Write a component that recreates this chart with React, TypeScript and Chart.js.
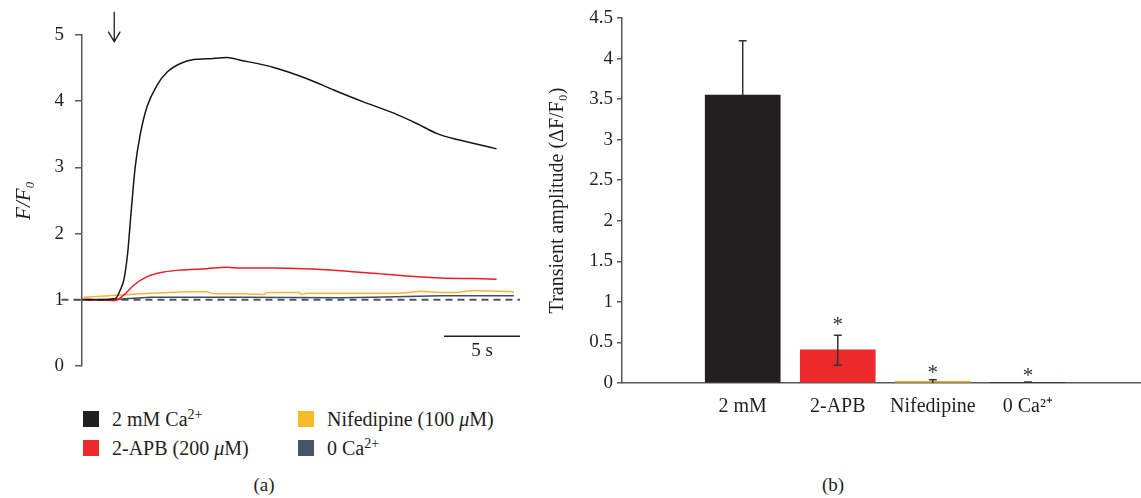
import React, { useEffect, useRef } from "react";
import { Chart, registerables } from "chart.js";

Chart.register(...registerables);

const SERIF = '"Liberation Serif", "Times New Roman", serif';
const INK = "#231f20";
const AXIS = "#58595b";

// ---------- Panel (a): F/F0 traces (time in s) ----------
const timeCa = [0, 1.0, 2.2, 2.5, 2.75, 3.0, 3.22, 3.5, 3.84, 4.28, 4.93, 5.6, 6.47, 7.34, 8.22, 9.54, 10.42, 12.6, 14.8, 16.55, 18.5, 20.5, 22.04, 23.36, 24.67, 25.99, 27.26];
const ratioCa = [1.0, 1.0, 1.02, 1.14, 1.3, 1.7, 2.3, 3.01, 3.51, 3.92, 4.24, 4.44, 4.57, 4.63, 4.64, 4.66, 4.62, 4.51, 4.34, 4.17, 3.99, 3.82, 3.66, 3.51, 3.42, 3.35, 3.28];

const timeApb = [0, 1.0, 2.2, 2.74, 3.4, 4.28, 5.37, 6.47, 8.22, 9.54, 10.42, 12.6, 14.6, 17.0, 19.2, 21.4, 23.6, 25.8, 27.26];
const ratioApb = [1.01, 1.0, 0.99, 1.07, 1.22, 1.35, 1.42, 1.45, 1.47, 1.49, 1.48, 1.48, 1.47, 1.44, 1.4, 1.36, 1.33, 1.32, 1.31];

const timeNif = [0.1, 2.3, 4.5, 6.9, 8.2, 8.66, 10.4, 12.0, 12.1, 14.3, 14.4, 14.8, 20.9, 22.3, 23.6, 24.7, 25.6, 28.4];
const ratioNif = [1.04, 1.07, 1.1, 1.12, 1.12, 1.09, 1.09, 1.08, 1.11, 1.11, 1.08, 1.1, 1.1, 1.13, 1.11, 1.11, 1.14, 1.12];

const timeZero = [0.1, 2.3, 4.5, 10.4, 17.0, 19.2, 23.6, 28.4];
const ratioZero = [1.0, 1.01, 1.04, 1.04, 1.03, 1.04, 1.06, 1.06];

const baselineTimes = [-1.35, 28.8];
const baselineValue = 1;
const scaleBarTimes = [23.8, 28.8];
const scaleBarValue = 0.45;
const scaleBarLabel = "5 s";
const scaleLabelTime = 26.3;
const scaleLabelValue = 0.22;
const arrowTime = 2.12;
const arrowTop = 5.35;
const arrowBottom = 4.9;
const timeMax = 28.8;
const ratioMax = 5;

const legendLabels = ["2 mM Ca²⁺", "2-APB (200 μM)", "Nifedipine (100 μM)", "0 Ca²⁺"];
const seriesColors = ["#231f20", "#ec2a2a", "#f4bb2a", "#46536a"];
const lineColors = ["#151515", "#ee1c25", "#f7b733", "#3f4d66"];

// ---------- Panel (b): transient amplitude ----------
const barLabels = ["2 mM", "2-APB", "Nifedipine", "0 Ca²⁺"];
const barPositions = [1, 2, 3, 4];
const barValues = [3.55, 0.41, 0.02, 0.005];
const errUpper = [4.22, 0.59, 0.04, 0.012];
const errLower = [3.55, 0.22, 0.0, 0.0];
const starValues = [null, 0.76, 0.17, 0.13];
const barColors = ["#231f20", "#ec2a2a", "#f0b323", "#2f3a4f"];
const amplitudeMax = 4.5;
const amplitudeStep = 0.5;

const toXY = (t: number[], v: number[]) => t.map((x, i) => ({ x, y: v[i] }));

function PanelA() {
  const ref = useRef<HTMLCanvasElement>(null);
  useEffect(() => {
    const overlay = {
      id: "overlayA",
      afterDraw(chart: any) {
        const { ctx, scales } = chart;
        const xs = scales.x;
        const ys = scales.y;
        const ax = xs.getPixelForValue(arrowTime);
        const at = ys.getPixelForValue(arrowTop);
        const ab = ys.getPixelForValue(arrowBottom);
        ctx.save();
        ctx.strokeStyle = INK;
        ctx.lineWidth = 1.3;
        ctx.beginPath();
        ctx.moveTo(ax, at);
        ctx.lineTo(ax, ab);
        ctx.moveTo(ax - 6, ab - 10);
        ctx.lineTo(ax, ab);
        ctx.lineTo(ax + 6, ab - 10);
        ctx.stroke();
        ctx.fillStyle = INK;
        ctx.font = `19px ${SERIF}`;
        ctx.textAlign = "center";
        ctx.textBaseline = "middle";
        ctx.fillText(scaleBarLabel, xs.getPixelForValue(scaleLabelTime), ys.getPixelForValue(scaleLabelValue));
        ctx.restore();
      },
    };
    const line = (label: string, t: number[], v: number[], color: string, smooth: boolean) => ({
      label,
      data: toXY(t, v),
      borderColor: color,
      backgroundColor: color,
      borderWidth: 1.5,
      pointRadius: 0,
      cubicInterpolationMode: smooth ? "monotone" : "default",
      tension: 0,
    });
    const chart = new Chart(ref.current as HTMLCanvasElement, {
      type: "line",
      data: {
        datasets: [
          line(legendLabels[0], timeCa, ratioCa, lineColors[0], true),
          line(legendLabels[1], timeApb, ratioApb, lineColors[1], true),
          line(legendLabels[2], timeNif, ratioNif, lineColors[2], false),
          line(legendLabels[3], timeZero, ratioZero, lineColors[3], false),
          {
            label: "baseline",
            data: baselineTimes.map((x) => ({ x, y: baselineValue })),
            borderColor: "#555555",
            borderWidth: 2,
            borderDash: [7, 5],
            pointRadius: 0,
            clip: false,
          },
          {
            label: "scale bar",
            data: scaleBarTimes.map((x) => ({ x, y: scaleBarValue })),
            borderColor: INK,
            borderWidth: 1.5,
            pointRadius: 0,
            clip: false,
          },
        ],
      },
      options: {
        animation: false,
        responsive: false,
        events: [],
        layout: { padding: { top: 35, right: 20, bottom: 34, left: 0 } },
        plugins: { legend: { display: false }, tooltip: { enabled: false } },
        scales: {
          x: { type: "linear", min: 0, max: timeMax, display: false },
          y: {
            min: 0,
            max: ratioMax,
            ticks: { stepSize: 1, color: INK, font: { family: SERIF, size: 19 }, padding: 11 },
            grid: { drawOnChartArea: false, drawTicks: true, tickLength: 7, color: AXIS, lineWidth: 1.5 },
            border: { display: true, color: AXIS, width: 1.5 },
            title: {
              display: true,
              text: "F/F₀",
              color: INK,
              font: { family: SERIF, size: 21, style: "italic" },
              padding: { top: 12, bottom: 0 },
            },
            afterFit(s: any) {
              s.width = 82;
            },
          },
        },
      } as any,
      plugins: [overlay],
    });
    return () => chart.destroy();
  }, []);
  return <canvas ref={ref} width={540} height={400} style={{ position: "absolute", left: 0, top: 0 }} />;
}

function PanelB() {
  const ref = useRef<HTMLCanvasElement>(null);
  useEffect(() => {
    const overlay = {
      id: "overlayB",
      afterDatasetsDraw(chart: any) {
        const { ctx, scales } = chart;
        const xs = scales.x;
        const ys = scales.y;
        ctx.save();
        ctx.strokeStyle = "#333333";
        ctx.lineWidth = 1.5;
        barPositions.forEach((p, i) => {
          const x = xs.getPixelForValue(p);
          const yTop = ys.getPixelForValue(errUpper[i]);
          const yBot = ys.getPixelForValue(errLower[i]);
          ctx.beginPath();
          ctx.moveTo(x, yBot);
          ctx.lineTo(x, yTop);
          ctx.moveTo(x - 4, yTop);
          ctx.lineTo(x + 4, yTop);
          if (errLower[i] < barValues[i] && errLower[i] > 0) {
            ctx.moveTo(x - 4, yBot);
            ctx.lineTo(x + 4, yBot);
          }
          ctx.stroke();
        });
        ctx.fillStyle = "#333333";
        ctx.font = `21px ${SERIF}`;
        ctx.textAlign = "center";
        ctx.textBaseline = "middle";
        barPositions.forEach((p, i) => {
          const s = starValues[i];
          if (s == null) return;
          ctx.fillText("*", xs.getPixelForValue(p), ys.getPixelForValue(s) + 4);
        });
        ctx.restore();
      },
    };
    const chart = new Chart(ref.current as HTMLCanvasElement, {
      type: "bar",
      data: {
        datasets: [
          {
            label: "Transient amplitude",
            data: barPositions.map((x, i) => ({ x, y: barValues[i] })),
            backgroundColor: barColors,
            borderWidth: 0,
            barThickness: 75,
          },
        ],
      },
      options: {
        animation: false,
        responsive: false,
        events: [],
        layout: { padding: { top: 18, right: 0, bottom: 0, left: 0 } },
        plugins: { legend: { display: false }, tooltip: { enabled: false } },
        scales: {
          x: {
            type: "linear",
            min: -0.27,
            max: 5.19,
            offset: false,
            afterBuildTicks(s: any) {
              s.ticks = barPositions.map((v) => ({ value: v }));
            },
            ticks: {
              color: INK,
              font: { family: SERIF, size: 20 },
              padding: 12,
              maxRotation: 0,
              autoSkip: false,
              callback: (v: any) => barLabels[barPositions.indexOf(Number(v))] ?? "",
            },
            grid: { display: false, drawTicks: false },
            border: { display: true, color: AXIS, width: 1.5 },
            afterFit(s: any) {
              s.height = 42;
            },
          },
          y: {
            min: 0,
            max: amplitudeMax,
            ticks: {
              stepSize: amplitudeStep,
              color: INK,
              font: { family: SERIF, size: 19 },
              padding: 4,
              callback: (v: any) => String(Number(v)),
            },
            grid: { drawOnChartArea: false, drawTicks: true, tickLength: 5, color: AXIS, lineWidth: 1.5 },
            border: { display: true, color: AXIS, width: 1.5 },
            title: {
              display: true,
              text: "Transient amplitude (ΔF/F₀)",
              color: INK,
              font: { family: SERIF, size: 20 },
              padding: { top: 6, bottom: 0 },
            },
            afterFit(s: any) {
              s.width = 82;
            },
          },
        },
      } as any,
      plugins: [overlay],
    });
    return () => chart.destroy();
  }, []);
  return <canvas ref={ref} width={601} height={425} style={{ position: "absolute", left: 540, top: 0 }} />;
}

const legendPos = [
  { left: 83, top: 411 },
  { left: 83, top: 440 },
  { left: 298, top: 411 },
  { left: 298, top: 440 },
];

function LegendText({ i }: { i: number }) {
  const sup = <sup style={{ fontSize: 14, verticalAlign: "7px", lineHeight: 0 }}>2+</sup>;
  if (i === 0) return <span>2 mM Ca{sup}</span>;
  if (i === 3) return <span>0 Ca{sup}</span>;
  if (i === 1)
    return (
      <span>
        2-APB (200 <i>μ</i>M)
      </span>
    );
  return (
    <span>
      Nifedipine (100 <i>μ</i>M)
    </span>
  );
}

export default function App() {
  return (
    <div
      style={{
        position: "absolute",
        left: 0,
        top: 0,
        width: 1141,
        height: 498,
        background: "#ffffff",
        fontFamily: SERIF,
        color: INK,
        overflow: "hidden",
      }}
    >
      <PanelA />
      <PanelB />
      {legendPos.map((p, i) => (
        <React.Fragment key={i}>
          <div
            style={{
              position: "absolute",
              left: p.left,
              top: p.top,
              width: 16,
              height: 16,
              background: seriesColors[i],
            }}
          />
          <div
            style={{
              position: "absolute",
              left: p.left + 29,
              top: p.top - 3,
              fontSize: 20,
              lineHeight: "22px",
              whiteSpace: "nowrap",
            }}
            title={legendLabels[i]}
          >
            <LegendText i={i} />
          </div>
        </React.Fragment>
      ))}
      <div style={{ position: "absolute", left: 234, top: 474, width: 60, textAlign: "center", fontSize: 19 }}>(a)</div>
      <div style={{ position: "absolute", left: 803, top: 474, width: 60, textAlign: "center", fontSize: 19 }}>(b)</div>
    </div>
  );
}
